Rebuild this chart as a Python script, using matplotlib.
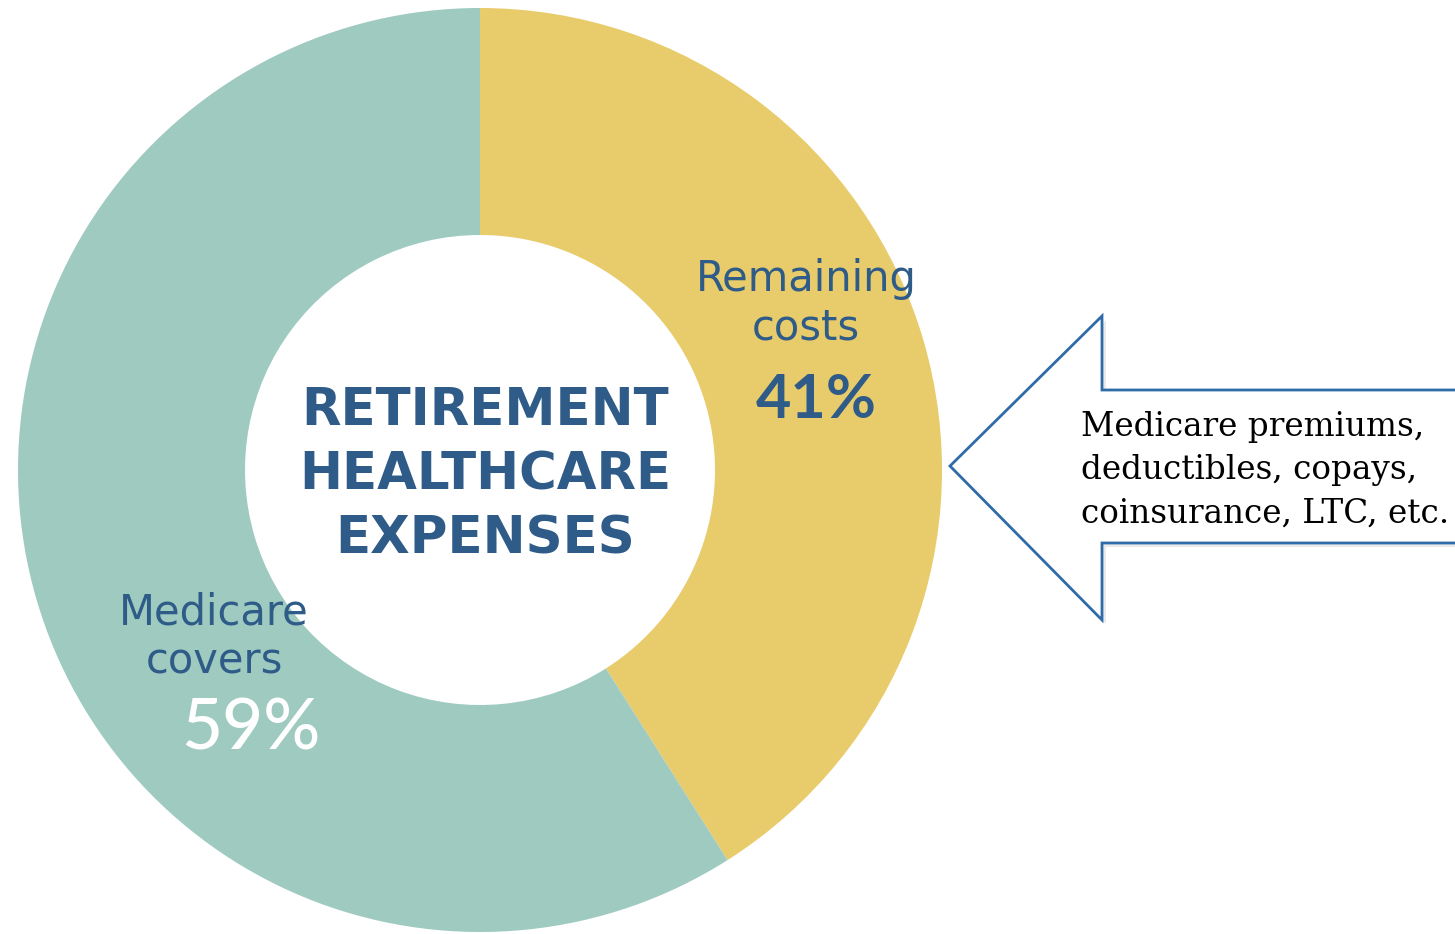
import matplotlib.pyplot as plt
from matplotlib.patches import Polygon

# data
labels = ["Remaining\ncosts", "Medicare\ncovers"]
shares = [41, 59]
colors = ["#E8CB6A", "#9FCAC0"]
title_lines = ["RETIREMENT", "HEALTHCARE", "EXPENSES"]
note = "Medicare premiums,\ndeductibles, copays,\ncoinsurance, LTC, etc."

W, H = 1455, 934
navy = "#2E5B88"

fig = plt.figure(figsize=(W / 100, H / 100), dpi=100)
ax = fig.add_axes([0, 0, 1, 1])

# donut, measured in pixels (y flipped)
cx, cy = 480, H - 470
r_out, r_in = 462, 235
ax.pie(shares, colors=colors, startangle=90, counterclock=False,
       center=(cx, cy), radius=r_out, frame=True,
       wedgeprops=dict(width=r_out - r_in, linewidth=0))
ax.set_xlim(0, W)
ax.set_ylim(0, H)
ax.set_aspect("equal")
ax.axis("off")

ax.text(806, H - 303, labels[0], ha="center", va="center", fontsize=30,
        color=navy, family="DejaVu Sans", linespacing=1.2)
ax.text(816, H - 400, f"{shares[0]}%", ha="center", va="center", fontsize=44,
        color=navy, family="Lato", fontweight="bold")
ax.text(214, H - 637, labels[1], ha="center", va="center", fontsize=30,
        color=navy, family="DejaVu Sans", linespacing=1.2)
ax.text(251, H - 730, f"{shares[1]}%", ha="center", va="center", fontsize=51,
        color="white", family="Lato", fontweight="medium")

for i, line in enumerate(title_lines):
    ax.text(485, H - (411 + 64 * i), line, ha="center", va="center",
            fontsize=37, color=navy, family="DejaVu Sans", fontweight="bold")

# callout arrow pointing at the yellow wedge
arrow_pts = [(950, 466), (1102, 316), (1102, 390), (1470, 390),
             (1470, 543), (1102, 543), (1102, 620)]
shadow = Polygon([(x + 4, H - y - 4) for x, y in arrow_pts], closed=True,
                 facecolor="#dddddd", edgecolor="none", alpha=0.6)
ax.add_patch(shadow)
ax.add_patch(Polygon([(x, H - y) for x, y in arrow_pts], closed=True,
                     facecolor="white", edgecolor="#2F6BA8", linewidth=2))
ax.text(1081, H - 470, note, ha="left", va="center", fontsize=23.5,
        color="black", family="DejaVu Serif", linespacing=1.45)

fig.savefig("out.png", dpi=100)
